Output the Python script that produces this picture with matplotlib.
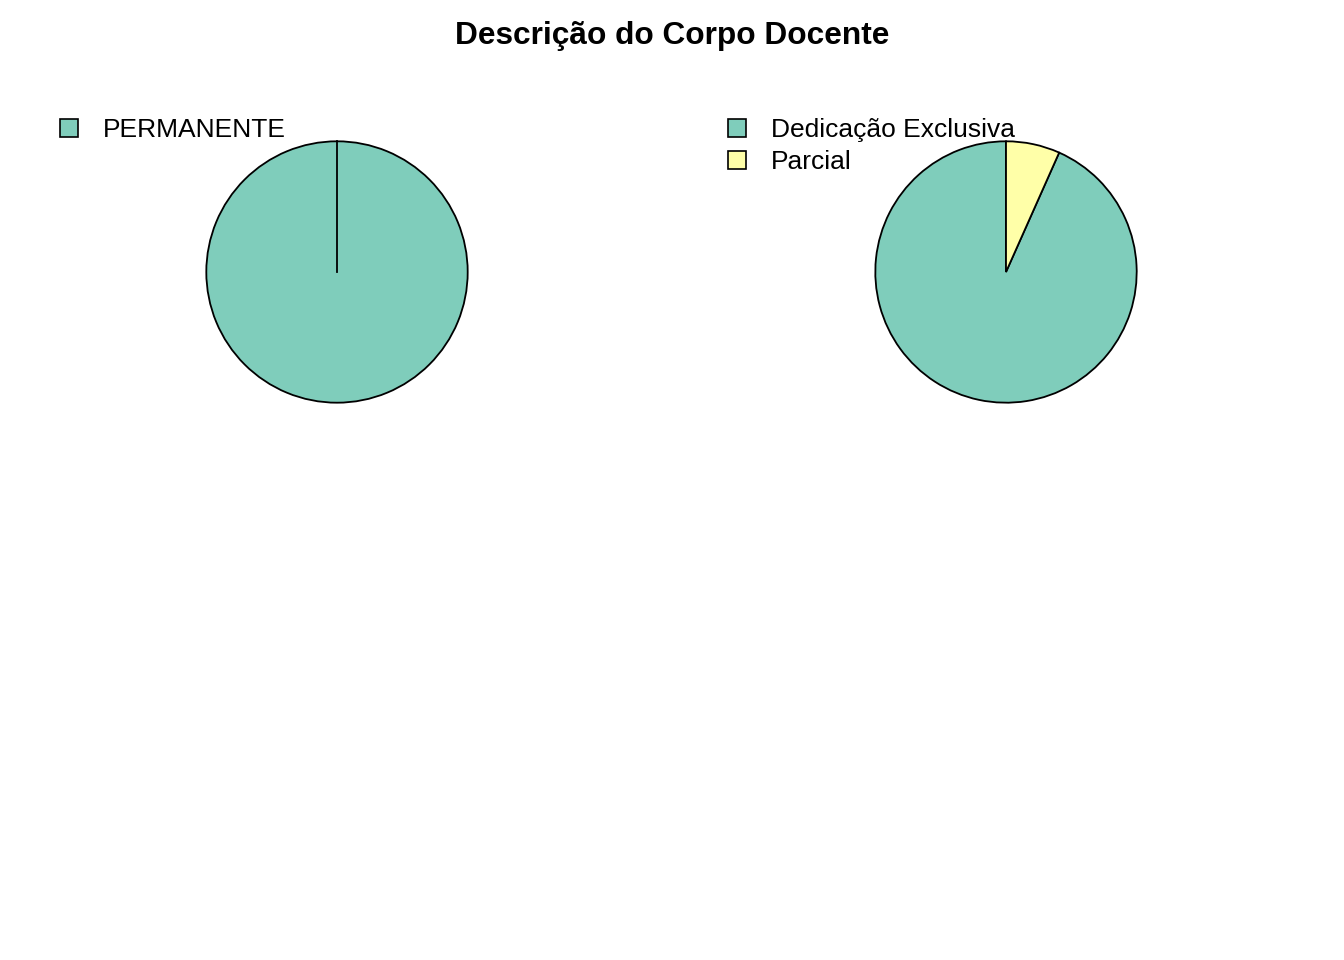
import matplotlib.pyplot as plt
from matplotlib.patches import Patch

plt.rcParams["font.family"] = ["Liberation Sans", "DejaVu Sans"]

# data
title = "Descrição do Corpo Docente"
tipo_labels = ["PERMANENTE"]
tipo_values = [15]
regime_labels = ["Dedicação Exclusiva", "Parcial"]
regime_values = [14, 1]
colors = ["#7FCDBB", "#FFFFA8"]

W, H = 1344, 960
fig = plt.figure(figsize=(W / 100, H / 100), dpi=100)
fig.text(0.5, 1 - 36 / H, title, ha="center", va="center",
         fontsize=22.8, fontweight="bold")

R = 132  # pie axes half-size in px


def draw_pie(cx, cy, values, labels, leg_x, leg_y):
    ax = fig.add_axes([(cx - R) / W, (H - cy - R) / H, 2 * R / W, 2 * R / H])
    wedges, _ = ax.pie(values, colors=colors[:len(values)], startangle=90,
                       counterclock=True, radius=1,
                       wedgeprops=dict(edgecolor="black", linewidth=1.3))
    if len(values) == 1:
        # full-circle wedge loses its radial edge; draw it as R does
        ax.plot([0, 0], [0, 1], color="black", linewidth=1.3)
    ax.set_xlim(-1.01, 1.01)
    ax.set_ylim(-1.01, 1.01)
    ax.set_aspect("equal")
    ax.axis("off")

    handles = [Patch(facecolor=colors[i], edgecolor="black", linewidth=1.2)
               for i in range(len(labels))]
    fig.legend(handles, labels, loc="upper left",
               bbox_to_anchor=(leg_x / W, 1 - leg_y / H),
               frameon=False, fontsize=19, handlelength=0.68,
               handleheight=0.68, handletextpad=0.95, labelspacing=0.31,
               borderaxespad=0, borderpad=0)


draw_pie(337, 272, tipo_values, tipo_labels, 60, 118)
draw_pie(1006, 272, regime_values, regime_labels, 728, 118)

fig.savefig("out.png", dpi=100)
